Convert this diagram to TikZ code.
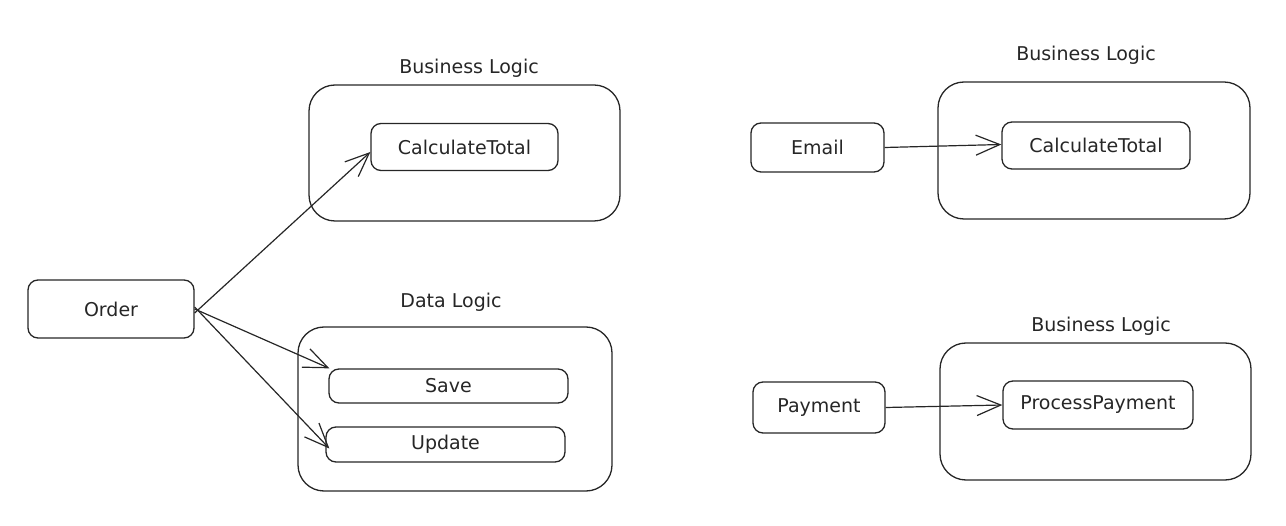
\documentclass[tikz,border=0pt]{standalone}
\usepackage{fontspec}
\setmainfont{DejaVu Sans}
\usetikzlibrary{arrows.meta}
\begin{document}
\begin{tikzpicture}[x=1pt,y=-1pt,
  every node/.style={font=\fontsize{19}{22}\selectfont, text=black!85},
  box/.style={draw=black!85, line width=1.3pt, rounded corners=10pt, inner sep=0pt},
  cont/.style={draw=black!85, line width=1.3pt, rounded corners=26pt, inner sep=0pt},
  lbl/.style={inner sep=0pt},
  conn/.style={draw=black!85, line width=1.2pt, -{Straight Barb[length=24pt,width=20pt,line width=1.2pt]}}
]
\useasboundingbox (0,0) rectangle (1286,526);
% left group
\node[box, minimum width=166pt, minimum height=58pt] (order) at (111,309) {Order};
\node[cont, minimum width=311pt, minimum height=136pt] (bl1) at (464.5,153) {};
\node[lbl] (bl1l) at (469,68) {Business Logic};
\node[box, minimum width=187pt, minimum height=47pt] (ct1) at (464.5,147) {CalculateTotal};
\node[cont, minimum width=314pt, minimum height=164pt] (dl) at (455,409) {};
\node[lbl] (dll) at (451,302) {Data Logic};
\node[box, minimum width=239pt, minimum height=34pt] (save) at (448.5,386) {Save};
\node[box, minimum width=239pt, minimum height=35pt] (update) at (445.5,444.5) {Update};
% right top
\node[box, minimum width=133pt, minimum height=49pt] (email) at (817.5,147.5) {Email};
\node[cont, minimum width=312pt, minimum height=137pt] (bl2) at (1094,150.5) {};
\node[lbl] (bl2l) at (1086,55) {Business Logic};
\node[box, minimum width=188pt, minimum height=47pt] (ct2) at (1096,145.5) {CalculateTotal};
% right bottom
\node[box, minimum width=132pt, minimum height=51pt] (payment) at (819,407.5) {Payment};
\node[cont, minimum width=311pt, minimum height=137pt] (bl3) at (1095.5,411.5) {};
\node[lbl] (bl3l) at (1101,326) {Business Logic};
\node[box, minimum width=190pt, minimum height=48pt] (pp) at (1098,405) {ProcessPayment};
% connectors
\draw[conn] ([yshift=-4pt]order.east) -- ([yshift=-5pt]ct1.west);
\draw[conn] (order.east) -- ([xshift=1pt]save.north west);
\draw[conn] ([yshift=2pt]order.east) -- ([yshift=-4pt,xshift=4pt]update.west);
\draw[conn] (email.east) -- ([yshift=1pt]ct2.west);
\draw[conn] (payment.east) -- (pp.west);
\end{tikzpicture}
\end{document}
